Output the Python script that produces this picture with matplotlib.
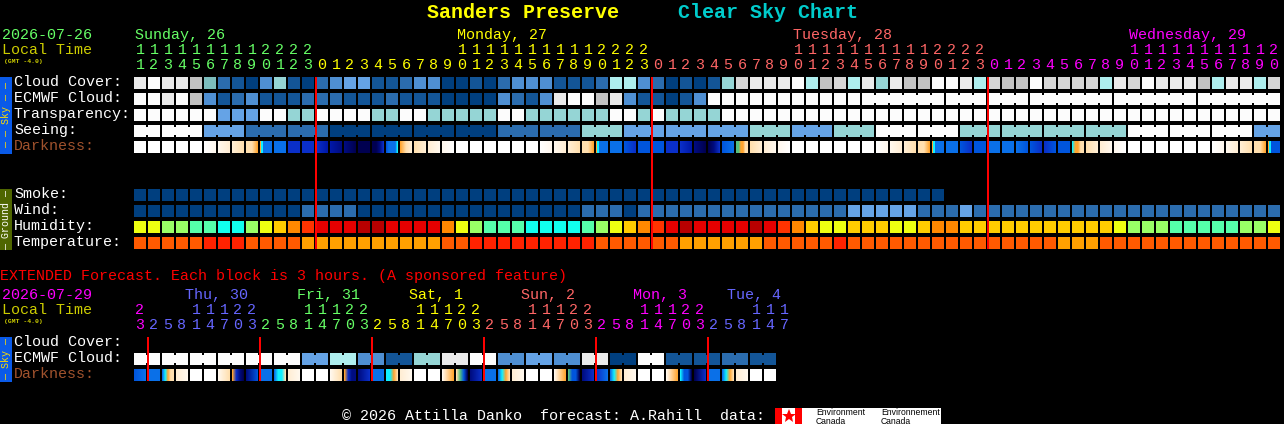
import numpy as np
import matplotlib
matplotlib.use("Agg")
import matplotlib.pyplot as plt
from matplotlib.patches import Rectangle

# -----------------------------
# DATA
# -----------------------------
# sky levels: 0 = clear dark blue ... 11 = white
CLOUD_COVER = [10, 11, 10, 10, 8, 5, 2, 1, 0, 3, 6, 1, 0, 2, 3, 4, 4, 1, 1, 2, 3,
               3, 0, 0, 1, 0, 2, 3, 3, 3, 1, 1, 1, 2, 7, 7, 3, 2, 0, 1, 0, 1, 6,
               9, 10, 10, 10, 11, 7, 8, 9, 7, 10, 6, 10, 8, 8, 11, 11, 10, 7, 9,
               8, 8, 11, 9, 9, 9, 9, 7, 10, 9, 11, 10, 10, 10, 8, 7, 10, 10, 7, 9]
ECMWF_CLOUD = [11, 11, 10, 11, 8, 3, 1, 2, 3, 1, 1, 1, 2, 2, 2, 1, 1, 1, 2, 1, 1,
               1, 0, 0, 0, 0, 3, 2, 1, 3, 10, 11, 11, 8, 10, 3, 1, 1, 0, 1, 3, 11,
               11, 11, 11, 11, 11, 11, 11, 11, 11, 11, 11, 11, 11, 11, 11, 11, 11, 11,
               11, 11, 11, 11, 11, 11, 11, 11, 11, 11, 11, 11, 11, 11, 11, 11, 11, 11,
               11, 11, 11, 11]
# runs of blocks that are joined up, col 0 to 51 stand alone
ECMWF_RUNS = [1] * 52 + [6, 3, 3, 6, 6, 6]
TRANSPARENCY = [11, 11, 11, 11, 11, 11, 4, 4, 4, 11, 11, 6, 6, 11, 11, 11, 11, 6, 6,
                11, 11, 6, 6, 6, 6, 6, 11, 11, 6, 6, 6, 6, 6, 6, 11, 11, 6, 11, 6, 6,
                6, 6] + [11] * 40
SEEING = [11, 11, 4, 2, 2, 0, 0, 0, 0, 2, 2, 6, 4, 4, 4, 6, 4, 6, 11, 11, 6, 6, 6, 6,
          11, 11, 11, 4]
SEEING_RUNS = [2] + [3] * 26 + [2]
# each block is a string of colour stops, left to right
DARKNESS = ["W", "W", "W", "W", "W", "WA", "AB", "BC", "CCD", "DEEFFFFFFFFF", "F", "H",
            "H", "HI", "IJ", "JK", "K", "KKJH", "GFFFFE", "DCB", "CB", "BA", "AW", "W", "W",
            "W", "W", "W", "W", "WA", "AB", "BC", "CCD", "DEEFFFFFFFFF", "F", "GH", "G", "G",
            "H", "HI", "JK", "KJH", "GF", "LLDDCC", "CB", "BA", "AW", "W", "W", "W", "W", "W",
            "W", "WA", "AB", "BC", "CCD", "DEEFFFFFFFFF", "F", "GH", "G", "F", "F", "FG", "GH",
            "HG", "G", "EDDCC", "CB", "BA", "AW", "W", "W", "W", "W", "W", "W", "WA", "AB", "BC",
            "CCD", "DEEGGGGGGGGG"]

SMOKE = [0] * 58
WIND = [0] * 12 + [2] * 4 + [0] * 16 + [2, 2, 2, 0] + [2] * 15 + [4] * 5 + [2, 2, 2, 4] + [2] * 22
# humidity levels: 0 = dark red (wet is cyan at 8)
HUMIDITY = [5, 5, 6, 6, 7, 7, 8, 8, 6, 5, 4, 3, 2, 1, 1, 1, 0, 0, 1, 1, 1,
            1, 3, 5, 6, 7, 7, 7, 8, 8, 8, 8, 7, 6, 5, 4, 3, 2, 1, 0, 1, 1, 1, 1, 0, 1, 2,
            3, 4, 5, 5, 4, 4, 4, 5, 5, 4, 3, 3, 4, 4, 4, 4, 4, 4, 4, 4, 4, 4, 4, 5, 6, 6, 6,
            7, 7, 7, 7, 7, 6, 6, 5]
TEMPERATURE = [1, 1, 1, 1, 1, 0, 0, 0, 1, 1, 1, 1] + [2] * 10 + [1, 1] + [0] * 9 + [1] * 6 \
    + [2] * 6 + [1] * 5 + [0, 1] + [1] * 14 + [2, 2, 2] + [1] * 13

HOURS = list(range(11, 24)) + list(range(24)) + list(range(24)) + list(range(21))
HOUR_GROUPS = [13, 24, 24, 21]
DAY_NAMES = ["Sunday, 26", "Monday, 27", "Tuesday, 28", "Wednesday, 29"]
DAY_X = [135, 457, 793, 1129]

EXT_HOURS = [23] + [2, 5, 8, 11, 14, 17, 20, 23] * 5 + [2, 5, 8, 11, 14, 17]
EXT_GROUPS = [1, 8, 8, 8, 8, 8, 6]
EXT_DAY_NAMES = ["", "Thu, 30", "Fri, 31", "Sat, 1", "Sun, 2", "Mon, 3", "Tue, 4"]
EXT_DAY_X = [0, 185, 297, 409, 521, 633, 727]
EXT_ECMWF = [11, 11, 11, 11, 11, 11, 4, 7, 3, 1, 6, 10, 11, 3, 4, 3, 10, 0, 11, 1, 1, 2, 1]
EXT_DARKNESS = ["GF", "F", "FEDCC", "BA", "W", "W", "AC", "DHJK", "JG", "F", "FEEC", "BA", "W",
                "W", "AC", "DHJJ", "JH", "F", "EEDC", "BA", "W", "W", "AD", "CLGK", "JH", "F",
                "FEDC", "BA", "W", "W", "AD", "LGGK", "JH", "HF", "FEDC", "BA", "W", "W", "AD",
                "EGGK", "KH", "F", "FEDC", "BA", "W", "W"]

# -----------------------------
# COLOURS
# -----------------------------
SKY_COLORS = ["#003f7f", "#135597", "#2b6cae", "#4f8fd2", "#65a3e6", "#7cbcbc",
              "#95d5d5", "#aeeeee", "#c2c2c2", "#d6d6d6", "#eaeaea", "#fcfcfc"]
HUMIDITY_COLORS = ["#b80000", "#e60000", "#ff3300", "#ff8800", "#ffcc00",
                   "#eeff11", "#99ff66", "#55ffaa", "#11ffee"]
TEMP_COLORS = ["#ff2200", "#ff5a00", "#ffa000"]
DARK_COLORS = {"W": "#ffffff", "A": "#fff8ee", "B": "#ffeed4", "C": "#ffdfae", "D": "#ffa530",
               "E": "#10f0ff", "F": "#0a70e8", "G": "#0055dd", "H": "#0a2fc8", "I": "#0018a8",
               "J": "#000c80", "K": "#000050", "L": "#55c080"}
GREEN = "#66ff66"
YELLOW = "#ffff00"
SALMON = "#ff6666"
MAGENTA = "#ff00ff"
PERI = "#6666ff"
OLIVE = "#cccc00"
SIENNA = "#a0522d"

plt.rcParams["font.family"] = ["Liberation Mono", "DejaVu Sans Mono"]

# -----------------------------
# LAYOUT (pixels)
# -----------------------------
X0 = 134
STEP = 14
BLOCK = 12
TXT = 10.8

fig = plt.figure(figsize=(12.84, 4.24), dpi=100, facecolor="black")
ax = fig.add_axes([0, 0, 1, 1])
ax.set_facecolor("black")
ax.axis("off")


def draw_row(values, top, colors, runs=None):
    for i, v in enumerate(values):
        ax.add_patch(Rectangle((X0 + STEP * i, top), BLOCK, BLOCK, fc=colors[v], ec="none",
                               antialiased=False, zorder=2))
    if runs is None:
        return
    # little bridges between blocks of one run
    i = 0
    for r in runs:
        for j in range(i, i + r - 1):
            ax.add_patch(Rectangle((X0 + STEP * j + BLOCK, top + 2), STEP - BLOCK, BLOCK - 4,
                                   fc=colors[values[j]], ec="none", antialiased=False, zorder=2))
        i += r


def draw_darkness(blocks, top):
    for i, stops in enumerate(blocks):
        rgb = np.array([matplotlib.colors.to_rgb(DARK_COLORS[s]) for s in stops])
        if len(stops) == 1:
            rgb = np.vstack([rgb, rgb])
        pos = np.linspace(0, 1, len(rgb))
        px = np.linspace(0, 1, BLOCK)
        strip = np.stack([np.interp(px, pos, rgb[:, c]) for c in range(3)], axis=1)[None, :, :]
        ax.imshow(strip, extent=(X0 + STEP * i, X0 + STEP * i + BLOCK, top + BLOCK, top),
                  aspect="auto", interpolation="nearest", zorder=2)


def expand(values, runs):
    out = []
    for v, r in zip(values, runs):
        out += [v] * r
    return out


def label(x, y, s, color="white", size=TXT, **kw):
    ax.text(x, y, s, color=color, fontsize=size, va="center", ha=kw.pop("ha", "left"), **kw)


def draw_hours(hours, groups, colors, y_tens, y_ones):
    i = 0
    for g, c in zip(groups, colors):
        for h in hours[i:i + g]:
            cx = X0 + STEP * i + BLOCK / 2
            if h >= 10:
                label(cx, y_tens, str(h // 10), c, ha="center")
            label(cx, y_ones, str(h % 10), c, ha="center")
            i += 1


def red_line(col, top, height):
    ax.add_patch(Rectangle((X0 + STEP * col - 1, top), 2, height, fc="#ff0000", ec="none",
                           antialiased=False, snap=False, zorder=3))


# -----------------------------
# TITLE + HEADER
# -----------------------------
label(427, 12, "Sanders Preserve", YELLOW, 14.4, fontweight="bold")
label(678, 12, "Clear Sky Chart", "#00cccc", 14.4, fontweight="bold")

label(2, 35, "2026-07-26", GREEN)
label(2, 50, "Local Time", OLIVE)
label(4, 62, "(GMT -4.0)", OLIVE, 4.6, fontweight="bold")

day_colors = [GREEN, YELLOW, SALMON, MAGENTA]
for name, x, c in zip(DAY_NAMES, DAY_X, day_colors):
    label(x, 35, name, c)
draw_hours(HOURS, HOUR_GROUPS, day_colors, 50, 65)

# -----------------------------
# MAIN ROWS
# -----------------------------
sky_names = ["Cloud Cover:", "ECMWF Cloud:", "Transparency:", "Seeing:", "Darkness:"]
sky_tops = [77, 93, 109, 125, 141]
for name, top in zip(sky_names, sky_tops):
    label(14, top + 5, name, SIENNA if name == "Darkness:" else "white")

draw_row(CLOUD_COVER, 77, SKY_COLORS)
draw_row(ECMWF_CLOUD, 93, SKY_COLORS, ECMWF_RUNS)
draw_row(TRANSPARENCY, 109, SKY_COLORS)
draw_row(expand(SEEING, SEEING_RUNS), 125, SKY_COLORS, SEEING_RUNS)
draw_darkness(DARKNESS, 141)

ground_names = ["Smoke:", "Wind:", "Humidity:", "Temperature:"]
ground_tops = [189, 205, 221, 237]
for name, top in zip(ground_names, ground_tops):
    label(14, top + 5, name)

draw_row(SMOKE, 189, SKY_COLORS)
draw_row(WIND, 205, SKY_COLORS)
draw_row(HUMIDITY, 221, HUMIDITY_COLORS)
draw_row(TEMPERATURE, 237, TEMP_COLORS)

# midnight lines
for c in [13, 37, 61]:
    red_line(c, 77, 172)

# side tabs
ax.add_patch(Rectangle((0, 77), 12, 77, fc="#0a5ae8", ec="none", antialiased=False))
ax.text(6, 115.5, "\u2014 \u2014 Sky \u2014 \u2014", color="#ffdd00", fontsize=7.2, rotation=90,
        ha="center", va="center")
ax.add_patch(Rectangle((0, 189), 12, 61, fc="#4f6600", ec="none", antialiased=False))
ax.text(6, 219.5, "\u2014 Ground \u2014", color="white", fontsize=7.2, rotation=90,
        ha="center", va="center")

# -----------------------------
# EXTENDED FORECAST
# -----------------------------
label(0, 276, "EXTENDED Forecast. Each block is 3 hours. (A sponsored feature)", "#ff0000")
label(2, 295, "2026-07-29", MAGENTA)
label(2, 310, "Local Time", OLIVE)
label(4, 322, "(GMT -4.0)", OLIVE, 4.6, fontweight="bold")

ext_colors = [MAGENTA, PERI, GREEN, YELLOW, SALMON, MAGENTA, PERI]
for name, x, c in zip(EXT_DAY_NAMES, EXT_DAY_X, ext_colors):
    label(x, 295, name, c)
draw_hours(EXT_HOURS, EXT_GROUPS, ext_colors, 310, 325)

label(14, 342, "Cloud Cover:")
label(14, 358, "ECMWF Cloud:")
label(14, 374, "Darkness:", SIENNA)

draw_row(expand(EXT_ECMWF, [2] * 23), 353, SKY_COLORS, [2] * 23)
draw_darkness(EXT_DARKNESS, 369)

for c in [1, 9, 17, 25, 33, 41]:
    red_line(c, 337, 44)

ax.add_patch(Rectangle((0, 337), 12, 45, fc="#0a5ae8", ec="none", antialiased=False))
ax.text(6, 359.5, "\u2014 Sky \u2014", color="#ffdd00", fontsize=7.2, rotation=90,
        ha="center", va="center")

# -----------------------------
# FOOTER
# -----------------------------
label(342, 416, "\u00a9 2026 Attilla Danko  forecast: A.Rahill  data:")
ax.add_patch(Rectangle((775, 408), 166, 16, fc="white", ec="none", antialiased=False))
ax.add_patch(Rectangle((775, 408), 7, 16, fc="#ff0000", ec="none", antialiased=False))
ax.add_patch(Rectangle((795, 408), 7, 16, fc="#ff0000", ec="none", antialiased=False))
ax.plot([788.5], [416], marker="*", color="#ff0000", markersize=10, mew=0)
for x, s in [(816, "Environment\nCanada"), (881, "Environnement\nCanada")]:
    ax.text(x, 417, s, color="black", fontsize=6.2, family="Liberation Sans", va="center",
            linespacing=1.0, clip_on=True)

ax.set_xlim(0, 1284)
ax.set_ylim(424, 0)

fig.savefig("out.png", dpi=100, facecolor="black")
